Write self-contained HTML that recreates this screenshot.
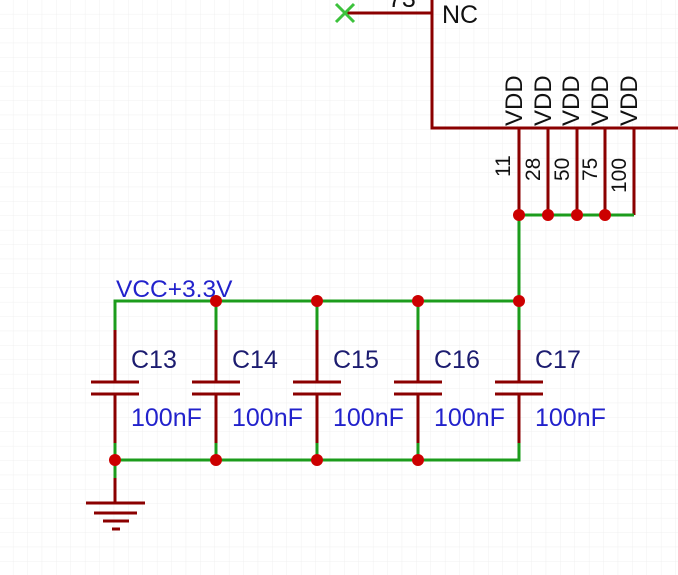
<!DOCTYPE html>
<html><head><style>
html,body{margin:0;padding:0;background:#fff;}
svg{display:block;}
text{font-family:"Liberation Sans",Arial,sans-serif;}
</style></head><body>
<svg width="678" height="575" viewBox="0 0 678 575" xmlns="http://www.w3.org/2000/svg">
<defs>
<pattern id="g" width="14.4" height="14.4" patternUnits="userSpaceOnUse" x="-1" y="0">
<path d="M14.4 0V14.4M0 14.4H14.4" stroke="#f0f0f0" stroke-width="1" fill="none"/>
</pattern>
</defs>
<rect width="678" height="575" fill="url(#g)"/>
<g stroke="#8b0000" stroke-width="3" fill="none">
<path d="M432 0V128H678"/>
<path d="M345 13H432"/>
<path d="M519 128V215M548 128V215M577 128V215M605 128V215M634 128V215"/>
</g>
<g stroke="#3cc23c" stroke-width="3">
<path d="M336 4L354 22M354 4L336 22"/>
</g>
<g stroke="#1c9c1c" stroke-width="3" fill="none">
<path d="M519 215H634M519 215V301"/>
<path d="M115 330V301H519"/>
<path d="M216 301V330M317 301V330M418 301V330M519 301V330"/>
<path d="M115 443V460H519V443M216 443V460M317 443V460M418 443V460"/>
<path d="M115 460V478"/>
</g>
<g stroke="#8b0000" stroke-width="3" fill="none">
<path d="M115 330V382M115 394V443M91 382H139M91 394H139"/>
<path d="M216 330V382M216 394V443M192 382H240M192 394H240"/>
<path d="M317 330V382M317 394V443M293 382H341M293 394H341"/>
<path d="M418 330V382M418 394V443M394 382H442M394 394H442"/>
<path d="M519 330V382M519 394V443M495 382H543M495 394H543"/>
<path d="M115 478V503M86 503H145M94 513H137M103 521H129M112 529H120"/>
</g>
<g fill="#cc0000">
<circle cx="519" cy="215" r="6"/><circle cx="548" cy="215" r="6"/><circle cx="577" cy="215" r="6"/><circle cx="605" cy="215" r="6"/>
<circle cx="216" cy="301" r="6"/><circle cx="317" cy="301" r="6"/><circle cx="418" cy="301" r="6"/><circle cx="519" cy="301" r="6"/>
<circle cx="115" cy="460" r="6"/><circle cx="216" cy="460" r="6"/><circle cx="317" cy="460" r="6"/><circle cx="418" cy="460" r="6"/>
</g>
<g fill="#111" font-size="25">
<text x="442" y="23">NC</text>
<text x="388" y="7">73</text>
<g font-size="24">
<text transform="translate(522,126) rotate(-90)">VDD</text>
<text transform="translate(551,126) rotate(-90)">VDD</text>
<text transform="translate(579,126) rotate(-90)">VDD</text>
<text transform="translate(608,126) rotate(-90)">VDD</text>
<text transform="translate(637,126) rotate(-90)">VDD</text>
</g>
<g font-size="21">
<text transform="translate(510,177) rotate(-90)">11</text>
<text transform="translate(540,181) rotate(-90)">28</text>
<text transform="translate(569,181) rotate(-90)">50</text>
<text transform="translate(597,181) rotate(-90)">75</text>
<text transform="translate(626,193) rotate(-90)">100</text>
</g>
</g>
<text x="116" y="297" font-size="24.5" fill="#2222cc">VCC+3.3V</text>
<g font-size="25" fill="#1c1c70">
<text x="131" y="368">C13</text><text x="232" y="368">C14</text><text x="333" y="368">C15</text><text x="434" y="368">C16</text><text x="535" y="368">C17</text>
</g>
<g font-size="25" fill="#2222cc">
<text x="131" y="426">100nF</text><text x="232" y="426">100nF</text><text x="333" y="426">100nF</text><text x="434" y="426">100nF</text><text x="535" y="426">100nF</text>
</g>
</svg>
</body></html>
